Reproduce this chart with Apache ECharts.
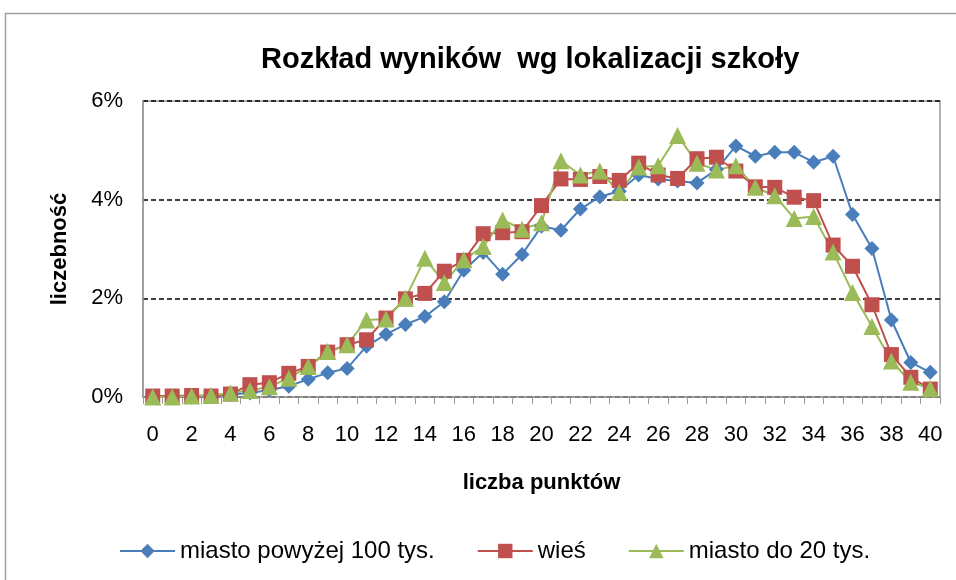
<!DOCTYPE html>
<html>
<head>
<meta charset="utf-8">
<script src="https://cdn.jsdelivr.net/npm/echarts@6/dist/echarts.min.js"></script>
<style>
  html, body { margin: 0; padding: 0; background: #fff; }
  #chart { width: 956px; height: 580px; }
</style>
</head>
<body>
<div id="chart"></div>
<script>
// punkty 0..40
const points = []
for (let i = 0; i <= 40; i++) points.push(String(i))

// odsetek uczniów (%)
const miasto100 = [0, 0, 0, 0.02, 0.05, 0.08, 0.14, 0.22, 0.36, 0.49, 0.58, 1.03, 1.27, 1.47, 1.63, 1.93, 2.57, 2.93, 2.49, 2.89,
  3.46, 3.38, 3.81, 4.06, 4.17, 4.5, 4.42, 4.38, 4.34, 4.61, 5.09, 4.88, 4.96, 4.96, 4.76, 4.88, 3.7, 3.01, 1.56, 0.7, 0.5]
const wies = [0.02, 0.02, 0.03, 0.02, 0.06, 0.25, 0.29, 0.48, 0.62, 0.91, 1.06, 1.16, 1.6, 1.99, 2.1, 2.55, 2.77, 3.31, 3.33, 3.35,
  3.88, 4.42, 4.41, 4.47, 4.39, 4.74, 4.5, 4.43, 4.83, 4.86, 4.58, 4.26, 4.25, 4.05, 3.98, 3.08, 2.65, 1.87, 0.86, 0.4, 0.16]
const miasto20 = [0, 0, 0.02, 0.03, 0.08, 0.13, 0.21, 0.38, 0.62, 0.92, 1.06, 1.56, 1.58, 2.0, 2.81, 2.32, 2.78, 3.05, 3.59, 3.4,
  3.53, 4.79, 4.5, 4.58, 4.15, 4.66, 4.69, 5.3, 4.74, 4.6, 4.69, 4.25, 4.08, 3.62, 3.66, 2.94, 2.12, 1.43, 0.73, 0.3, 0.17]

const chart = echarts.init(document.getElementById('chart'))

function serie(name, data, color, symbol, size) {
  return {
    name: name,
    type: 'line',
    data: data,
    symbol: symbol,
    symbolSize: size,
    showAllSymbol: true,
    lineStyle: { color: color, width: 2 },
    itemStyle: { color: color },
    emphasis: { disabled: true },
    z: 3
  }
}

chart.setOption({
  animation: false,
  textStyle: { fontFamily: 'Liberation Sans, Arial, sans-serif' },
  title: {
    text: 'Rozkład wyników  wg lokalizacji szkoły',
    left: 256,
    top: 40,
    textStyle: { fontSize: 29, fontWeight: 'bold', color: '#000' }
  },
  graphic: [{
    type: 'rect',
    shape: { x: 5.5, y: 13.5, width: 1000, height: 1000 },
    style: { fill: 'none', stroke: '#a0a0a0', lineWidth: 1.5 },
    silent: true
  }],
  legend: {
    bottom: 12,
    left: 114,
    itemWidth: 55,
    itemHeight: 18,
    itemGap: 42,
    textStyle: { fontSize: 24, color: '#000' },
    data: ['miasto powyżej 100 tys.', 'wieś', 'miasto do 20 tys.']
  },
  grid: {
    left: 143,
    right: 16,
    top: 101,
    bottom: 183,
    show: true,
    borderColor: '#9a9a9a',
    borderWidth: 1.5
  },
  xAxis: {
    type: 'category',
    data: points,
    boundaryGap: true,
    name: 'liczba punktów',
    nameLocation: 'middle',
    nameGap: 75,
    nameTextStyle: { fontSize: 22, fontWeight: 'bold', color: '#000' },
    axisLine: { lineStyle: { color: '#9a9a9a', width: 1.5 } },
    axisTick: { show: true, interval: 0, length: 7, lineStyle: { color: '#9a9a9a' } },
    axisLabel: { interval: 1, fontSize: 22, color: '#000', margin: 27 }
  },
  yAxis: {
    type: 'value',
    min: 0,
    max: 6,
    interval: 2,
    name: 'liczebność',
    nameLocation: 'middle',
    nameGap: 72,
    nameTextStyle: { fontSize: 22, fontWeight: 'bold', color: '#000' },
    axisLine: { show: true, lineStyle: { color: '#9a9a9a', width: 1.5 } },
    axisTick: { show: false },
    axisLabel: { formatter: '{value}%', fontSize: 22, color: '#000', margin: 20 },
    splitLine: { show: true, lineStyle: { color: '#000', type: [5, 3], width: 1.5 } }
  },
  series: [
    serie('miasto powyżej 100 tys.', miasto100, '#4a7ebb', 'diamond', 15),
    serie('wieś', wies, '#c0504d', 'rect', 15),
    serie('miasto do 20 tys.', miasto20, '#9bbb59', 'triangle', 17)
  ]
})
</script>
</body>
</html>
